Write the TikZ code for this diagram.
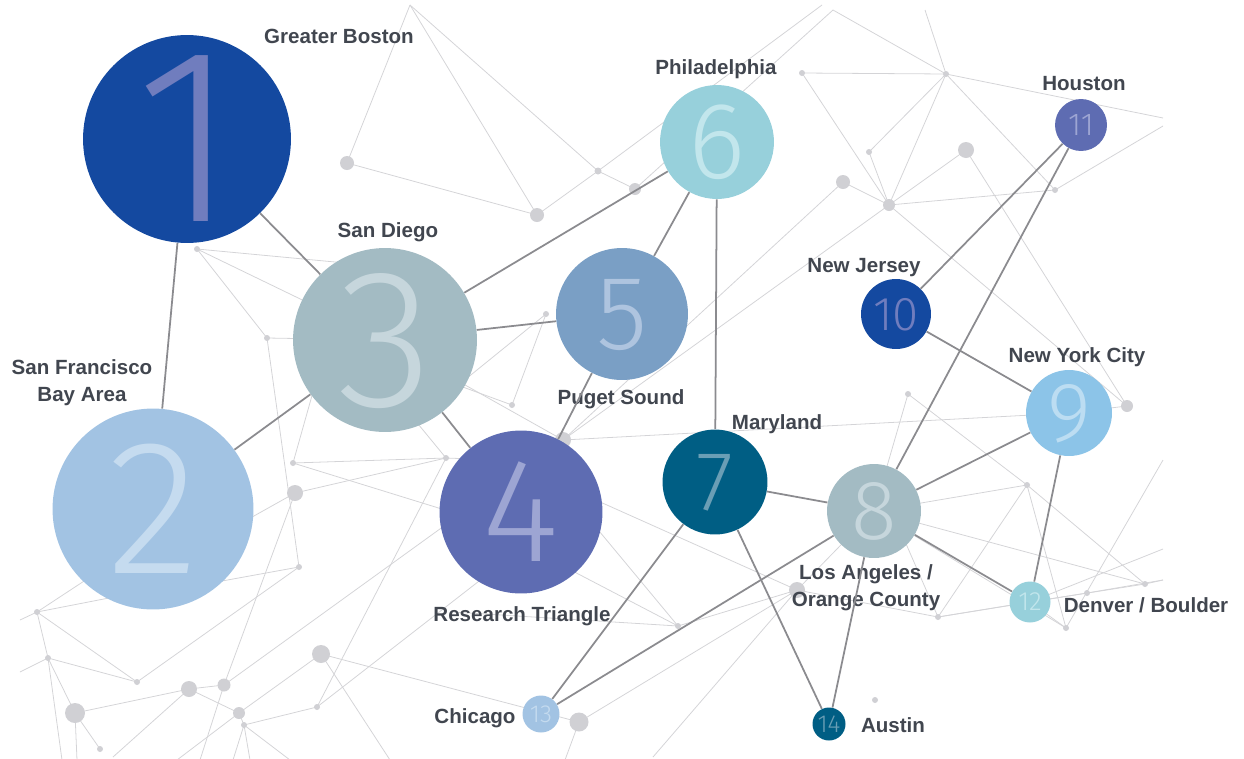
\documentclass[tikz,border=0pt]{standalone}
\usepackage{fontspec}
\setmainfont{Liberation Sans}
\newfontfamily\numfont{Fira Sans Light}
\usepackage{tikz}
\usetikzlibrary{backgrounds}

\definecolor{navyhub}{HTML}{1449A0}
\definecolor{navydigit}{HTML}{707DBE}
\definecolor{skyhub}{HTML}{A2C3E3}
\definecolor{skydigit}{HTML}{C5DBEF}
\definecolor{slatehub}{HTML}{A3BBC3}
\definecolor{slatedigit}{HTML}{C6D6DC}
\definecolor{violethub}{HTML}{5E6CB2}
\definecolor{violetdigit}{HTML}{9DA5D3}
\definecolor{steelhub}{HTML}{7A9FC5}
\definecolor{steeldigit}{HTML}{AEC4DF}
\definecolor{aquahub}{HTML}{97D0DB}
\definecolor{aquadigit}{HTML}{C2E6EC}
\definecolor{tealhub}{HTML}{005E84}
\definecolor{tealdigit}{HTML}{6A9EB5}
\definecolor{bluehub}{HTML}{8CC4E8}
\definecolor{bluedigit}{HTML}{BCDDF2}
\definecolor{namegrey}{HTML}{41464F}
\definecolor{linkgrey}{HTML}{8B8B8F}
\definecolor{faintgrey}{HTML}{D4D4D7}
\definecolor{dotgrey}{HTML}{D0D0D4}

\newcommand\digitsize[1]{\numfont\fontsize{#1}{#1}\selectfont}
\newcommand\digits[1]{\smash{\makebox[0pt]{\raisebox{-0.5\height}{#1}}}}

\tikzset{
  city/.style={circle, inner sep=0pt, minimum size=#1*0.04cm},
  cityname/.style={font=\bfseries\fontsize{11.7}{14.9}\selectfont, text=namegrey,
    align=center, anchor=base, inner sep=0pt},
  link/.style={draw=linkgrey, line width=1pt},
  faint/.style={draw=faintgrey, line width=0.45pt},
}

\begin{document}
\begin{tikzpicture}[x=0.02cm, y=-0.02cm]
  \useasboundingbox (0,0) rectangle (1244,758);
  % ranked hubs
  \node[city=104, fill=navyhub, text=navydigit, font=\digitsize{142}] (n1) at (187,139) {\digits{1}};
  \node[city=100.5, fill=skyhub, text=skydigit, font=\digitsize{109}] (n2) at (153,509) {\digits{2}};
  \node[city=92, fill=slatehub, text=slatedigit, font=\digitsize{112}] (n3) at (385,340) {\digits{3}};
  \node[city=81.5, fill=violethub, text=violetdigit, font=\digitsize{84}] (n4) at (521,512) {\digits{4}};
  \node[city=66, fill=steelhub, text=steeldigit, font=\digitsize{60}] (n5) at (622,314) {\digits{5}};
  \node[city=57, fill=aquahub, text=aquadigit, font=\digitsize{62}] (n6) at (717,142) {\digits{6}};
  \node[city=52.5, fill=tealhub, text=tealdigit, font=\digitsize{48}] (n7) at (715,482) {\digits{7}};
  \node[city=47, fill=slatehub, text=slatedigit, font=\digitsize{48}] (n8) at (874,511) {\digits{8}};
  \node[city=43, fill=bluehub, text=bluedigit, font=\digitsize{48}] (n9) at (1069,413) {\digits{9}};
  \node[city=35, fill=navyhub, text=navydigit, font=\digitsize{27}] (n10) at (896,314) {\digits{10}};
  \node[city=26, fill=violethub, text=violetdigit, font=\digitsize{18}] (n11) at (1081,125) {\digits{11}};
  \node[city=20.5, fill=aquahub, text=aquadigit, font=\digitsize{15}] (n12) at (1030,602) {\digits{12}};
  \node[city=18.5, fill=skyhub, text=skydigit, font=\digitsize{14}] (n13) at (541,714) {\digits{13}};
  \node[city=16.5, fill=tealhub, text=tealdigit, font=\digitsize{14}] (n14) at (829,724) {\digits{14}};
  %
  % names (base = last line)
  \node[cityname] (t1) at (339,43) {Greater Boston};
  \node[cityname] (t2) at (82,401) {San Francisco\\Bay Area};
  \node[cityname] (t3) at (388,237) {San Diego};
  \node[cityname] (t4) at (522,621) {Research Triangle};
  \node[cityname] (t5) at (621,404) {Puget Sound};
  \node[cityname] (t6) at (716,74) {Philadelphia};
  \node[cityname] (t7) at (777,429) {Maryland};
  \node[cityname] (t8) at (866,606) {Los Angeles /\\Orange County};
  \node[cityname] (t9) at (1077,362) {New York City};
  \node[cityname] (t10) at (864,272) {New Jersey};
  \node[cityname] (t11) at (1084,90) {Houston};
  \node[cityname] (t12) at (1146,612) {Denver / Boulder};
  \node[cityname] (t13) at (475,723) {Chicago};
  \node[cityname] (t14) at (893,732) {Austin};
  %
  % links between hubs
  \path[link]
    (n1) edge (n2)
    (n1) edge (n3)
    (n2) edge (n3)
    (n3) edge (n4)
    (n3) edge (n5)
    (n3) edge (n6)
    (n5) edge (n6)
    (n5) edge (n4)
    (n6) edge (n7)
    (n7) edge (n8)
    (n7) edge (n13)
    (n7) edge (n14)
    (n8) edge (n13)
    (n8) edge (n14)
    (n8) edge (n12)
    (n8) edge (n9)
    (n8) edge (n11)
    (n10) edge (n11)
    (n10) edge (n9)
    (n9) edge (n12);
  %
  % faint network behind
  \begin{pgfonlayer}{background}
    \clip (0,0) rectangle (1244,758);
    \foreach \n/\x/\y in {1/410/5, 2/822/5, 3/833/10, 4/925/10, 5/1163/118, 6/1163/126,
        7/1163/460, 8/1163/549, 9/1163/580, 10/20/620, 11/420/270, 12/20/672,
        13/220/535, 14/200/585, 15/150/590, 16/110/564, 17/62/760, 18/77/760,
        19/113/757, 20/200/760, 21/480/500, 22/177/760, 23/233/760, 24/250/760,
        25/290/760, 26/390/760, 27/565/760, 28/500/527, 29/322/360, 30/400/402,
        31/500/460, 32/510/557, 33/560/484, 34/540/554, 35/453/612, 36/430/375,
        37/440/400, 38/900/530, 39/653/757}
      \coordinate (q\n) at (\x,\y);
    \foreach \n/\x/\y/\r in {1/347/163/7, 2/537/215/7, 3/598/171/3.5, 4/635/189/6,
        5/802/73/3, 6/946/74/3, 7/869/152/3, 8/889/205/6, 9/966/150/8, 10/843/182/7,
        11/1055/190/3, 12/197/249/3, 13/267/338/3, 14/293/463/3, 15/295/493/8,
        16/299/567/3, 17/37/612/3, 18/48/658/3, 19/75/713/10, 20/100/749/3,
        21/137/682/3, 22/189/689/8, 23/224/685/6.5, 24/239/713/6, 25/244/725/3,
        26/317/707/3, 27/321/654/9, 28/446/458/3, 29/512/405/3, 30/546/314/3,
        31/563/440/8, 32/678/626/3, 33/797/590/8, 34/579/722/9.5, 35/875/700/3,
        36/908/394/3, 37/1027/485/3, 38/938/617/3, 39/1066/628/3, 40/1145/584/3,
        41/1127/406/6, 42/1087/593/3}
      \coordinate (p\n) at (\x,\y);
    \foreach \a/\b in {p1/q1, p1/p2, q1/p2, q1/p3, p2/p3, p3/p4, p4/q3, p3/q2,
        p5/p6, p5/p8, q3/p6, q4/p6, p6/p7, p6/p8, p6/p11, p6/q5, p7/p8, p9/p8,
        p10/p8, p8/p11, p11/q6, p9/p41, p8/p41, p41/n9.center, p8/p31, p10/p31,
        p12/q11, p12/n3.center, p12/p13, p13/n3.center, p13/p16,
        p14/p28, p14/q28, p14/q29, p15/p28, p15/p23, p15/q13, p16/q14, p16/p21,
        p17/q15, p17/q16, p17/p18, p17/p21, p17/q10, p18/q12, p18/p19, p18/q17,
        p18/p21, p19/p20, p19/p22, p19/q18, p22/q19, p22/p23, p22/p24, p23/q20,
        p23/q21, p24/p27, p24/q22, p25/p26, p25/p24, p25/q23, p25/q24, p25/q25,
        p26/p28, p26/q32, p27/p34, p27/q26, p28/q30, p28/q31, p29/q36, p29/p30,
        p30/q37, n3.center/p31, p31/n9.center, q33/p33, q33/p32, q34/p32, q35/p32,
        p32/p33, p33/n8.center, p33/p34, p33/q39, p34/q27, p33/p38,
        p36/p37, p36/n8.center, p37/n8.center, p37/p38, p37/p39, p37/p40,
        p38/q38, p38/n12.center, p38/p42, p42/q9, p39/n12.center, p39/q7,
        n12.center/q8, p40/n8.center, p40/n12.center, p40/q9, n8.center/p39}
      \draw[faint] (\a) -- (\b);
    \foreach \n/\x/\y/\r in {1/347/163/7, 2/537/215/7, 3/598/171/3.5, 4/635/189/6,
        5/802/73/3, 6/946/74/3, 7/869/152/3, 8/889/205/6, 9/966/150/8, 10/843/182/7,
        11/1055/190/3, 12/197/249/3, 13/267/338/3, 14/293/463/3, 15/295/493/8,
        16/299/567/3, 17/37/612/3, 18/48/658/3, 19/75/713/10, 20/100/749/3,
        21/137/682/3, 22/189/689/8, 23/224/685/6.5, 24/239/713/6, 25/244/725/3,
        26/317/707/3, 27/321/654/9, 28/446/458/3, 29/512/405/3, 30/546/314/3,
        31/563/440/8, 32/678/626/3, 33/797/590/8, 34/579/722/9.5, 35/875/700/3,
        36/908/394/3, 37/1027/485/3, 38/938/617/3, 39/1066/628/3, 40/1145/584/3,
        41/1127/406/6, 42/1087/593/3}
      \fill[dotgrey] (p\n) circle[radius=\r*0.02cm];
  \end{pgfonlayer}
\end{tikzpicture}
\end{document}
